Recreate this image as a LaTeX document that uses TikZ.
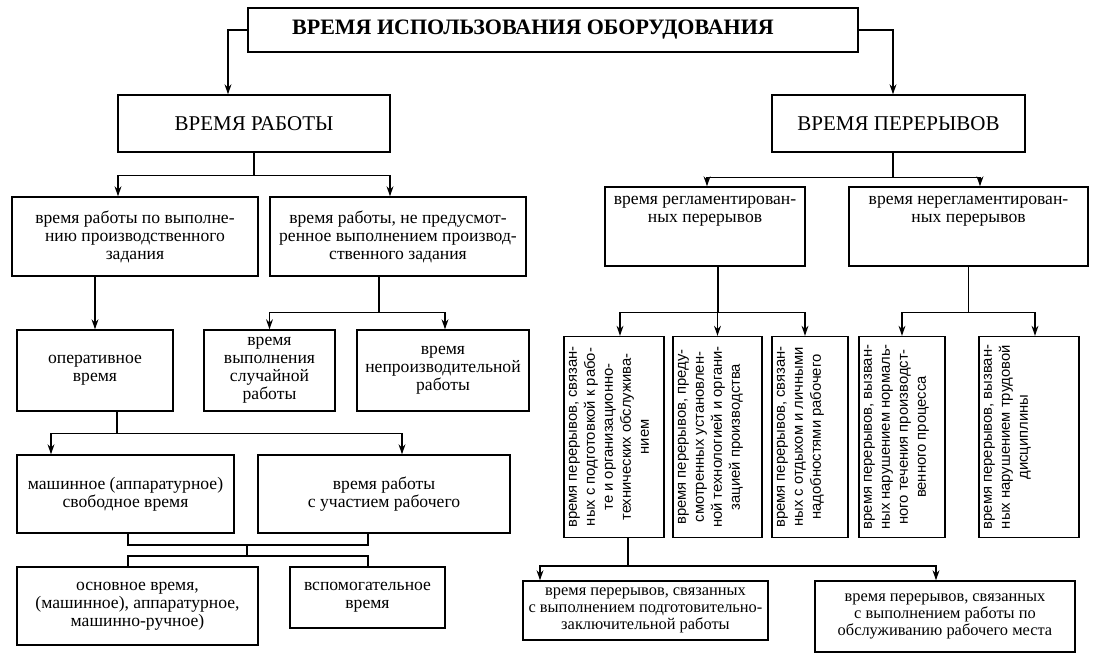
\documentclass[tikz,border=0pt]{standalone}
\usepackage{fontspec}
\setmainfont{Liberation Serif}
\setsansfont{Liberation Sans}
\usepackage{graphicx}
\usetikzlibrary{arrows.meta}
\newcommand{\vtext}[3]{\rotatebox{90}{\parbox[c][#1][t]{#2}{\centering #3}}}
\newcommand{\ttext}[3]{\parbox[c][#1][t]{#2}{\centering #3}}

\begin{document}
\begin{tikzpicture}[x=0.5pt,y=-0.5pt,line width=0.65pt,
  wh/.style 2 args={minimum width=#1*0.5pt,minimum height=#2*0.5pt},
  box/.style={draw,align=center,inner sep=2pt,font=\fontsize{8.8}{9}\selectfont},
  bigbox/.style={draw,align=center,inner sep=2pt,font=\fontsize{10.5}{12}\selectfont},
  smallbox/.style={draw,align=center,inner sep=2pt,font=\fontsize{8.2}{8.6}\selectfont},
  vbox/.style={draw,inner sep=2.5pt,font=\sffamily\fontsize{7.4}{9}\selectfont},
  arr/.style={-{Stealth[length=5pt,width=3.4pt]}}]
\useasboundingbox (0,0) rectangle (1100,668);

\node[draw,inner sep=2pt,wh={610}{44},font=\bfseries\fontsize{11}{13}\selectfont] (T) at (553,30) {ВРЕМЯ ИСПОЛЬЗОВАНИЯ ОБОРУДОВАНИЯ\hspace*{20pt}};
\node[bigbox,wh={272}{57}] (W) at (254,123.5) {ВРЕМЯ РАБОТЫ};
\node[bigbox,wh={253}{57}] (B) at (898.5,123.5) {ВРЕМЯ ПЕРЕРЫВОВ};

\node[box,wh={246}{79}] (W1) at (135,236.5) {время работы по выполне-\\нию производственного\\задания};
\node[box,wh={256}{79}] (W2) at (398,236.5) {время работы, не предусмот-\\ренное выполнением производ-\\ственного задания};
\node[box,wh={156}{81}] (W11) at (95,370.5) {оперативное\\время};
\node[box,wh={131}{81}] (W21) at (269.5,370.5) {время\\выполнения\\случайной\\работы};
\node[box,wh={172}{81}] (W22) at (443,370.5) {время\\непроизводительной\\работы};
\node[box,wh={217}{78}] (W111) at (125.5,494) {машинное (аппаратурное)\\свободное время};
\node[box,wh={252}{78}] (W112) at (384,494) {время работы\\с участием рабочего};
\node[box,wh={241}{78}] (W1a) at (137.5,606) {основное время,\\(машинное), аппаратурное,\\машинно-ручное)};
\node[box,wh={155}{61}] (W1b) at (367.5,597.5) {вспомогательное\\время};

\node[box,wh={200}{79}] (B1) at (705,226.5) {\ttext{34.5pt}{95pt}{\vspace{2pt}время регламентирован-\\ных перерывов}};
\node[box,wh={239}{79}] (B2) at (968.5,226.5) {\ttext{34.5pt}{115pt}{\vspace{2pt}время нерегламентирован-\\ных перерывов}};

\node[vbox,wh={100}{201}] (B11) at (614,437) {\vtext{45pt}{95.5pt}{время перерывов, связан-\\ных с подготовкой к рабо-\\те и организационно-\\технических обслужива-\\нием}};
\node[vbox,wh={89}{201}] (B12) at (717.5,437) {\vtext{39.5pt}{95.5pt}{время перерывов, преду-\\смотренных установлен-\\ной технологией и органи-\\зацией производства}};
\node[vbox,wh={76}{201}] (B13) at (810,437) {\vtext{33pt}{95.5pt}{время перерывов, связан-\\ных с отдыхом и личными\\надобностями рабочего}};
\node[vbox,wh={86}{201}] (B21) at (902,437) {\vtext{38pt}{95.5pt}{время перерывов, вызван-\\ных нарушением нормаль-\\ного течения производст-\\венного процесса}};
\node[vbox,wh={100}{201}] (B22) at (1029,437) {\vtext{45pt}{95.5pt}{время перерывов, вызван-\\ных нарушением трудовой\\дисциплины}};

\node[smallbox,wh={245}{59}] (B111) at (645.5,610.5) {время перерывов, связанных\\с выполнением подготовительно-\\заключительной работы};
\node[smallbox,wh={260}{71}] (B112) at (945,616.5) {время перерывов, связанных\\с выполнением работы по\\обслуживанию рабочего места};

\draw[arr] (T.west) -| (W.north -| 228,0);
\draw[arr] (T.east) -| (B.north -| 893,0);

\draw[arr] (W.south) -- ++(0,23) -| (W1.north -| 118,0);
\draw[arr] (W.south) -- ++(0,23) -| (W2.north -| 390,0);
\draw[arr] (W11.north |- W1.south) -- (W11.north);
\draw[arr] (W2.south -| 379,0) -- ++(0,36) -| (W21.north);
\draw[arr] (W2.south -| 379,0) -- ++(0,36) -| (W22.north -| 445,0);
\draw[arr] (W11.south -| 117,0) -- ++(0,22) -| (W111.north -| 51,0);
\draw[arr] (W11.south -| 117,0) -- ++(0,22) -| (W112.north -| 402,0);
\coordinate (mA) at (247,545);
\coordinate (mB) at (247,556);
\draw (W111.south -| 128,0) |- (mA) -| (W112.south -| 368,0);
\draw (mA) -- (mB);
\draw (W1a.north -| 128,0) |- (mB) -| (W1b.north -| 368,0);

\draw[arr] (B.south -| 893,0) -- ++(0,25) -| (B1.north -| 707,0);
\draw[arr] (B.south -| 893,0) -- ++(0,25) -| (B2.north -| 980,0);
\draw[arr] (B1.south -| 718,0) -- ++(0,46) -| (B11.north -| 620,0);
\draw[arr] (B12.north |- B1.south) -- (B12.north);
\draw[arr] (B1.south -| 718,0) -- ++(0,46) -| (B13.north -| 805,0);
\draw[arr] (B2.south) -- ++(0,46) -| (B21.north);
\draw[arr] (B2.south) -- ++(0,46) -| (B22.north -| 1035,0);
\draw[arr] (B11.south -| 628,0) -- ++(0,28) -| (B111.north -| 540,0);
\draw[arr] (B11.south -| 628,0) -- ++(0,28) -| (B112.north -| 936,0);
\end{tikzpicture}
\end{document}
